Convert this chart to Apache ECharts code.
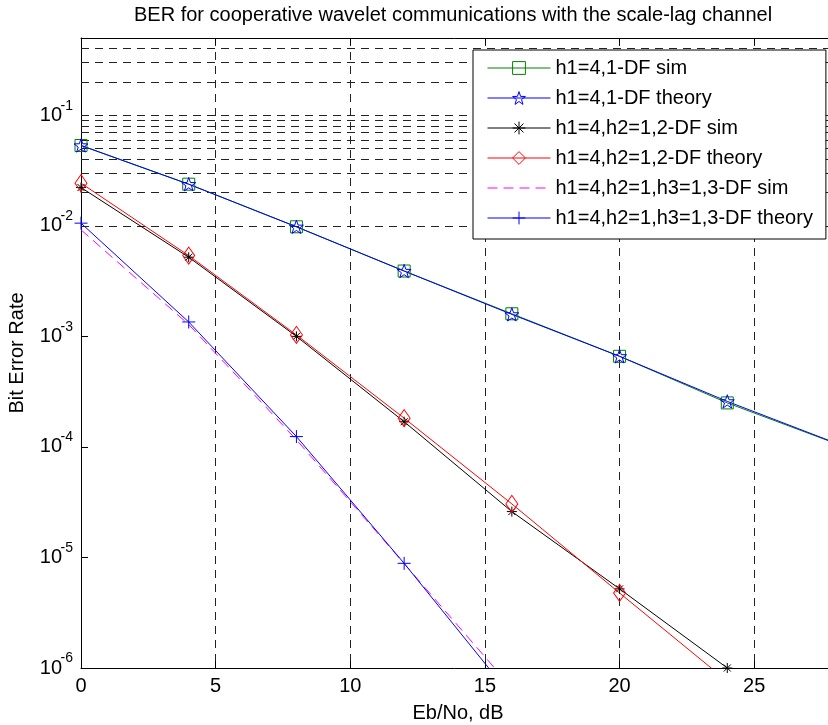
<!DOCTYPE html>
<html>
<head>
<meta charset="utf-8">
<script src="https://cdn.jsdelivr.net/npm/echarts@6/dist/echarts.min.js"></script>
<style>
html,body{margin:0;padding:0;background:#fff;}
#chart{width:828px;height:725px;}
</style>
</head>
<body>
<div id="chart"></div>
<script>
// ---- data ----
const titleText = 'BER for cooperative wavelet communications with the scale-lag channel';
const xName = 'Eb/No, dB';
const yName = 'Bit Error Rate';

const xDF1 = [0, 4, 8, 12, 16, 20, 24, 28];
const simDF1 = [0.0533, 0.0238, 0.0098, 0.0039, 0.0016, 0.00066, 0.00025, 0.000108];
const theoryDF1 = [0.0533, 0.0238, 0.0098, 0.0039, 0.00158, 0.00066, 0.000258, 0.000109];

const xDF2 = [0, 4, 8, 12, 16, 20, 24];
const simDF2 = [0.0222, 0.0052, 0.00100, 0.000169, 0.000026, 0.0000052, 0.0000010];
const theoryDF2 = [0.0243, 0.00538, 0.00103, 0.000182, 0.0000305, 0.00000477, 0.00000076];

const xDF3 = [0, 4, 8, 12, 16];
const simDF3 = [0.0092, 0.00128, 0.000116, 0.0000088, 0.00000066];
const theoryDF3 = [0.01057, 0.00135, 0.000124, 0.00000885, 0.00000055];

const seriesNames = [
  'h1=4,1-DF sim',
  'h1=4,1-DF theory',
  'h1=4,h2=1,2-DF sim',
  'h1=4,h2=1,2-DF theory',
  'h1=4,h2=1,h3=1,3-DF sim',
  'h1=4,h2=1,h3=1,3-DF theory'
];

const xMin = 0, xMax = 28, xStep = 5;
const yMin = 1e-6, yMax = 0.5;
const yBase = '10';
const decadeExps = [-6, -5, -4, -3, -2, -1];
const mantissas = [1, 2, 3, 4, 5, 6, 7, 8, 9];

// ---- build ----
const FONT = "'Liberation Sans', Arial, Helvetica, sans-serif";
const pairs = (xs, ys) => xs.map((x, i) => [x, ys[i]]);

const gridValues = [];
decadeExps.forEach(e => mantissas.forEach(m => {
  const v = m * Math.pow(10, e);
  if (v > yMin * 1.0001 && v < yMax * 0.9999) gridValues.push(v);
}));

function decadeExp(v) {
  const l = Math.log10(v);
  const e = Math.round(l);
  return Math.abs(l - e) > 1e-6 ? null : e;
}

const STAR = 'path://M0,-10L2.35,-3.24L9.51,-3.09L3.8,1.24L5.88,8.09L0,4L-5.88,8.09L-3.8,1.24L-9.51,-3.09L-2.35,-3.24Z';
const PLUS = 'path://M0,-10L0,10M-10,0L10,0';
const ASTER = 'path://M0,-10L0,10M-10,0L10,0M-7,-7L7,7M-7,7L7,-7';

function lineSeries(name, data, color, symbol, size, dashed) {
  const noSym = symbol === 'none';
  return {
    name: name,
    type: 'line',
    data: data,
    symbol: noSym ? 'rect' : symbol,
    symbolSize: size,
    symbolKeepAspect: true,
    showSymbol: !noSym,
    clip: true,
    z: 3,
    lineStyle: { color: color, width: 1, type: dashed ? [10, 6] : 'solid' },
    itemStyle: { color: 'none', borderColor: noSym ? 'rgba(0,0,0,0)' : color, borderWidth: 1 },
    emphasis: { disabled: true },
    animation: false
  };
}

const chart = echarts.init(document.getElementById('chart'), null, { renderer: 'canvas' });

const yCommon = {
  type: 'log', logBase: 10, min: yMin, max: yMax, position: 'left',
  splitLine: { show: false }
};

const option = {
  backgroundColor: '#fff',
  animation: false,
  title: {
    text: titleText,
    left: 134,
    top: 5,
    padding: 0,
    textStyle: { fontSize: 20, fontWeight: 'normal', color: '#000', fontFamily: FONT }
  },
  legend: {
    orient: 'vertical',
    left: 473,
    top: 50,
    z: 10,
    itemWidth: 63,
    itemHeight: 16,
    itemGap: 10,
    padding: [8, 13, 11, 14],
    borderColor: '#000',
    borderWidth: 1,
    borderRadius: 0,
    backgroundColor: '#fff',
    selectedMode: false,
    data: seriesNames,
    itemStyle: { borderWidth: 1 },
    lineStyle: { width: 1 },
    textStyle: { fontSize: 20, lineHeight: 20, color: '#000', fontFamily: FONT }
  },
  grid: { left: 81, top: 38, width: 754, height: 630, containLabel: false, outerBoundsMode: 'none' },
  xAxis: [
    {
      type: 'value', position: 'bottom', min: xMin, max: xMax, interval: xStep,
      axisLine: { show: true, onZero: false, lineStyle: { color: '#000', width: 1 } },
      axisTick: { show: true, inside: true, length: 7, lineStyle: { color: '#000' } },
      axisLabel: {
        fontSize: 20, color: '#000', fontFamily: FONT, margin: 8,
        formatter: v => (v % xStep === 0 ? String(v) : '')
      },
      splitLine: { show: true, lineStyle: { color: '#222', width: 1, type: [8, 6] } },
      name: xName, nameLocation: 'middle', nameGap: 35,
      nameTextStyle: { fontSize: 20, color: '#000', fontFamily: FONT }
    },
    {
      type: 'value', position: 'top', min: xMin, max: xMax, interval: xStep,
      axisLine: { show: true, onZero: false, lineStyle: { color: '#000', width: 1 } },
      axisTick: { show: true, inside: true, length: 7, lineStyle: { color: '#000' } },
      axisLabel: { show: false },
      splitLine: { show: false }
    }
  ],
  yAxis: [
    Object.assign({}, yCommon, {
      axisLine: { show: true, onZero: false, lineStyle: { color: '#000', width: 1 } },
      axisTick: { show: true, inside: true, length: 7, lineStyle: { color: '#000' } },
      axisLabel: {
        margin: 19, fontSize: 20, color: '#000', fontFamily: FONT, verticalAlign: 'middle',
        formatter: v => (decadeExp(v) === null ? '' : yBase)
      },
      name: yName, nameLocation: 'middle', nameGap: 54, nameRotate: 90,
      nameTextStyle: { fontSize: 20, color: '#000', fontFamily: FONT }
    }),
    Object.assign({}, yCommon, {
      offset: 0,
      axisLine: { show: false },
      axisTick: { show: false },
      axisLabel: {
        margin: 8, fontSize: 14, lineHeight: 19, color: '#000', fontFamily: FONT, verticalAlign: 'bottom',
        formatter: v => { const e = decadeExp(v); return e === null ? '' : String(e); }
      }
    })
  ],
  series: [
    {
      name: 'grid', type: 'line', data: [], z: 1, silent: true, animation: false,
      markLine: {
        silent: true, symbol: ['none', 'none'], animation: false, z: 1,
        label: { show: false },
        lineStyle: { color: '#222', width: 1, type: [8, 6] },
        emphasis: { disabled: true },
        data: gridValues.map(v => ({ yAxis: v }))
      }
    },
    lineSeries(seriesNames[0], pairs(xDF1, simDF1), '#008000', 'rect', 12, false),
    lineSeries(seriesNames[1], pairs(xDF1, theoryDF1), '#0000ff', STAR, 14, false),
    lineSeries(seriesNames[2], pairs(xDF2, simDF2), '#000000', ASTER, 10, false),
    lineSeries(seriesNames[3], pairs(xDF2, theoryDF2), '#ff0000', 'diamond', [12, 17], false),
    lineSeries(seriesNames[4], pairs(xDF3, simDF3), '#ff00ff', 'none', 1, true),
    lineSeries(seriesNames[5], pairs(xDF3, theoryDF3), '#0000ff', PLUS, 13, false)
  ]
};
chart.setOption(option);
</script>
</body>
</html>
